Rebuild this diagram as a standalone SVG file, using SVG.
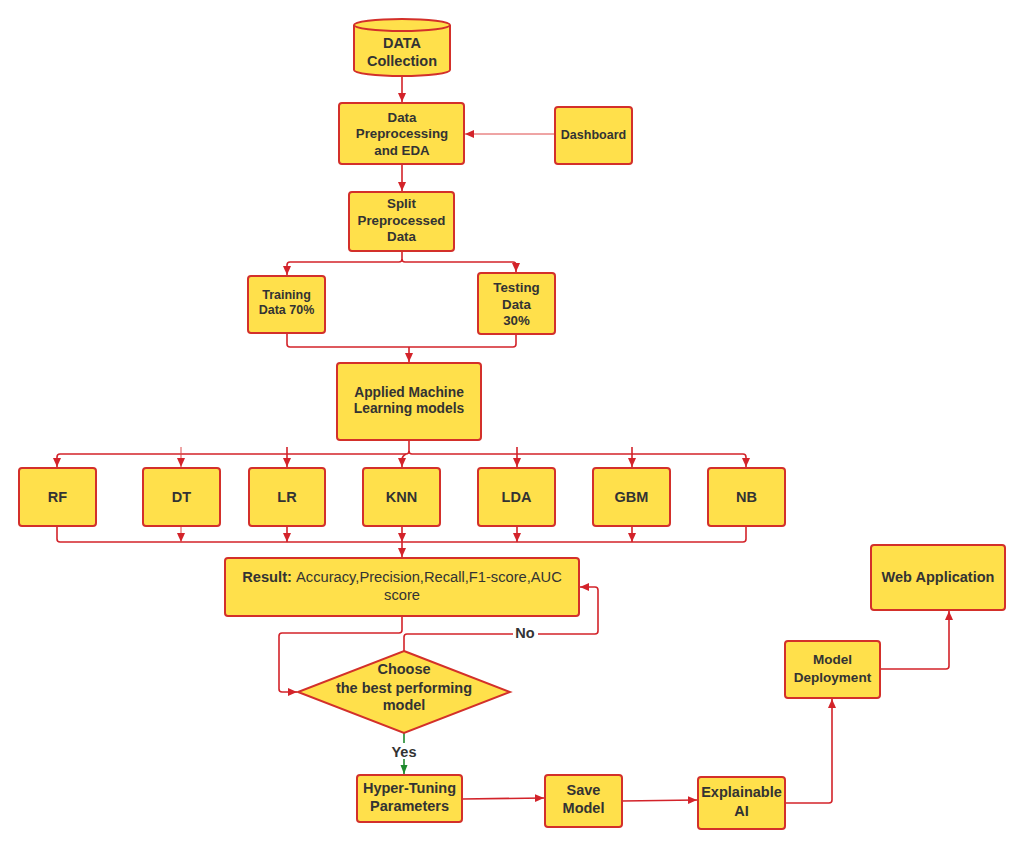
<svg xmlns="http://www.w3.org/2000/svg" width="1024" height="849" viewBox="0 0 1024 849">
  <style>
    .box { fill: #ffe04b; stroke: #d3302a; stroke-width: 2; }
    .t { font-family: "Liberation Sans", Arial, sans-serif; font-weight: bold; fill: #333333; text-anchor: middle; font-size: 14.5px; }
    .s { font-size: 13.3px; }
    .n { font-weight: normal; }
    .ln { fill: none; stroke: #d3232a; stroke-width: 1.6; }
    .thin { stroke-width: 1; stroke: #de4a4a; }
    .yes { fill: none; stroke: #1f8a2e; stroke-width: 1.6; }
  </style>
  <defs>
    <marker id="ah" markerUnits="userSpaceOnUse" markerWidth="10" markerHeight="10" refX="9" refY="4" orient="auto">
      <path d="M0,0 L9,4 L0,8 Z" fill="#d3232a"/>
    </marker>
    <marker id="ahg" markerUnits="userSpaceOnUse" markerWidth="10" markerHeight="10" refX="9" refY="3.5" orient="auto">
      <path d="M0,0 L9,3.5 L0,7 Z" fill="#1f8a2e"/>
    </marker>
  </defs>
  <rect width="1024" height="849" fill="#ffffff"/>

  <!-- connectors -->
  <g id="connectors">
    <path class="ln" d="M402,76 V102" marker-end="url(#ah)"/>
    <path class="ln thin" d="M555,134 H465" marker-end="url(#ah)"/>
    <path class="ln" d="M402,164 V191" marker-end="url(#ah)"/>
    <!-- split -->
    <path class="ln" d="M402,251 V259 Q402,262 399,262 H290 Q287,262 287,265 V275" marker-end="url(#ah)"/>
    <path class="ln" d="M402,259 Q402,262 405,262 H513 Q516,262 516,265 V272" marker-end="url(#ah)"/>
    <!-- merge -->
    <path class="ln" d="M287,333 V344 Q287,347 290,347 H513 Q516,347 516,344 V334"/>
    <path class="ln" d="M409,347 V362" marker-end="url(#ah)"/>
    <!-- fan out to models -->
    <path class="ln" d="M409,440 V451 Q409,454 406,454 H60 Q57,454 57,457 V467" marker-end="url(#ah)"/>
    <path class="ln" d="M409,451 Q409,454 412,454 H743 Q746,454 746,457 V467" marker-end="url(#ah)"/>
    <path class="ln thin" d="M181,447 V467" marker-end="url(#ah)"/>
    <path class="ln" d="M287,447 V467" marker-end="url(#ah)"/>
    <path class="ln" d="M406,454 Q402,456 402,460 V467" marker-end="url(#ah)"/>
    <path class="ln" d="M517,447 V467" marker-end="url(#ah)"/>
    <path class="ln" d="M632,447 V467" marker-end="url(#ah)"/>
    <!-- gather results -->
    <path class="ln" d="M57,526 V539 Q57,542 60,542 H743 Q746,542 746,539 V526"/>
    <path class="ln thin" d="M181,526 V542" marker-end="url(#ah)"/>
    <path class="ln" d="M287,526 V542" marker-end="url(#ah)"/>
    <path class="ln" d="M402,526 V542" marker-end="url(#ah)"/>
    <path class="ln" d="M517,526 V542" marker-end="url(#ah)"/>
    <path class="ln" d="M632,526 V542" marker-end="url(#ah)"/>
    <path class="ln" d="M402,542 V557" marker-end="url(#ah)"/>
    <!-- result to decision -->
    <path class="ln" d="M402,616 V630 Q402,633 399,633 H282 Q279,633 279,636 V689 Q279,692 282,692 H297" marker-end="url(#ah)"/>
    <!-- No loop -->
    <path class="ln" d="M404,651 V637 Q404,634 407,634 H595 Q598,634 598,631 V590 Q598,587 595,587 H580" marker-end="url(#ah)"/>
    <!-- Yes -->
    <path class="yes" d="M404,733 V774" marker-end="url(#ahg)"/>
    <!-- final chain -->
    <path class="ln" d="M462,799 L544,798" marker-end="url(#ah)"/>
    <path class="ln" d="M622,801 L697,800" marker-end="url(#ah)"/>
    <path class="ln" d="M785,803 H829 Q832,803 832,800 V699" marker-end="url(#ah)"/>
    <path class="ln" d="M880,669 H946 Q949,669 949,666 V611" marker-end="url(#ah)"/>
  </g>

  <!-- edge labels -->
  <g id="edge-labels">
    <rect x="513" y="625" width="25" height="16" fill="#ffffff"/>
    <text class="t" x="525" y="638">No</text>
    <rect x="388" y="743" width="32" height="16" fill="#ffffff"/>
    <text class="t" x="404" y="757">Yes</text>
  </g>

  <g id="data-collection">
    <path class="box" d="M354,25 V70 A48,6 0 0 0 450,70 V25"/>
    <ellipse class="box" cx="402" cy="25" rx="48" ry="6"/>
    <text class="t" x="402" y="48">DATA</text>
    <text class="t" x="402" y="66">Collection</text>
  </g>

  <g id="preprocessing">
    <rect class="box" x="339" y="103" width="125" height="61" rx="3"/>
    <text class="t s" x="402" y="122">Data</text>
    <text class="t s" x="402" y="138">Preprocessing</text>
    <text class="t s" x="402" y="155">and EDA</text>
  </g>

  <g id="dashboard">
    <rect class="box" x="555" y="107" width="77" height="57" rx="3"/>
    <text class="t" x="593.5" y="139" style="font-size:12.5px">Dashboard</text>
  </g>

  <g id="split">
    <rect class="box" x="349" y="192" width="105" height="59" rx="3"/>
    <text class="t s" x="401.5" y="208">Split</text>
    <text class="t s" x="401.5" y="225">Preprocessed</text>
    <text class="t s" x="401.5" y="241">Data</text>
  </g>

  <g id="training">
    <rect class="box" x="248" y="276" width="77" height="57" rx="3"/>
    <text class="t" x="286.5" y="299" style="font-size:12.5px">Training</text>
    <text class="t" x="286.5" y="314" style="font-size:12.5px">Data 70%</text>
  </g>

  <g id="testing">
    <rect class="box" x="478" y="273" width="77" height="61" rx="3"/>
    <text class="t s" x="516.5" y="292">Testing</text>
    <text class="t s" x="516.5" y="309">Data</text>
    <text class="t s" x="516.5" y="325">30%</text>
  </g>

  <g id="applied-ml">
    <rect class="box" x="337" y="363" width="144" height="77" rx="3"/>
    <text class="t" x="409" y="397" style="font-size:13.8px">Applied Machine</text>
    <text class="t" x="409" y="413" style="font-size:13.8px">Learning models</text>
  </g>

  <g id="rf">
    <rect class="box" x="19" y="468" width="77" height="58" rx="3"/>
    <text class="t" x="57.5" y="502">RF</text>
  </g>
  <g id="dt">
    <rect class="box" x="143" y="468" width="77" height="58" rx="3"/>
    <text class="t" x="181.5" y="502">DT</text>
  </g>
  <g id="lr">
    <rect class="box" x="249" y="468" width="76" height="58" rx="3"/>
    <text class="t" x="287" y="502">LR</text>
  </g>
  <g id="knn">
    <rect class="box" x="363" y="468" width="77" height="58" rx="3"/>
    <text class="t" x="401.5" y="502">KNN</text>
  </g>
  <g id="lda">
    <rect class="box" x="478" y="468" width="77" height="58" rx="3"/>
    <text class="t" x="516.5" y="502">LDA</text>
  </g>
  <g id="gbm">
    <rect class="box" x="593" y="468" width="77" height="58" rx="3"/>
    <text class="t" x="631.5" y="502">GBM</text>
  </g>
  <g id="nb">
    <rect class="box" x="708" y="468" width="77" height="58" rx="3"/>
    <text class="t" x="746.5" y="502">NB</text>
  </g>

  <g id="result">
    <rect class="box" x="225" y="558" width="354" height="58" rx="3"/>
    <text class="t" x="402" y="582" style="font-size:14.7px">Result: <tspan class="n">Accuracy,Precision,Recall,F1-score,AUC</tspan></text>
    <text class="t n" x="402" y="600" style="font-size:14.7px">score</text>
  </g>

  <g id="choose-model">
    <polygon class="box" points="404,651 510,692 404,733 298,692"/>
    <text class="t" x="404" y="674">Choose</text>
    <text class="t" x="404" y="693">the best performing</text>
    <text class="t" x="404" y="710">model</text>
  </g>

  <g id="hyper-tuning">
    <rect class="box" x="357" y="775" width="105" height="47" rx="3"/>
    <text class="t" x="409.5" y="793">Hyper-Tuning</text>
    <text class="t" x="409.5" y="811">Parameters</text>
  </g>

  <g id="save-model">
    <rect class="box" x="545" y="775" width="77" height="52" rx="3"/>
    <text class="t" x="583.5" y="795">Save</text>
    <text class="t" x="583.5" y="813">Model</text>
  </g>

  <g id="explainable-ai">
    <rect class="box" x="698" y="777" width="87" height="52" rx="3"/>
    <text class="t" x="741.5" y="797">Explainable</text>
    <text class="t" x="741.5" y="816">AI</text>
  </g>

  <g id="model-deployment">
    <rect class="box" x="785" y="641" width="95" height="57" rx="3"/>
    <text class="t" x="832.5" y="664" style="font-size:13.5px">Model</text>
    <text class="t" x="832.5" y="682" style="font-size:13.5px">Deployment</text>
  </g>

  <g id="web-application">
    <rect class="box" x="871" y="545" width="134" height="65" rx="3"/>
    <text class="t" x="938" y="582">Web Application</text>
  </g>
</svg>
